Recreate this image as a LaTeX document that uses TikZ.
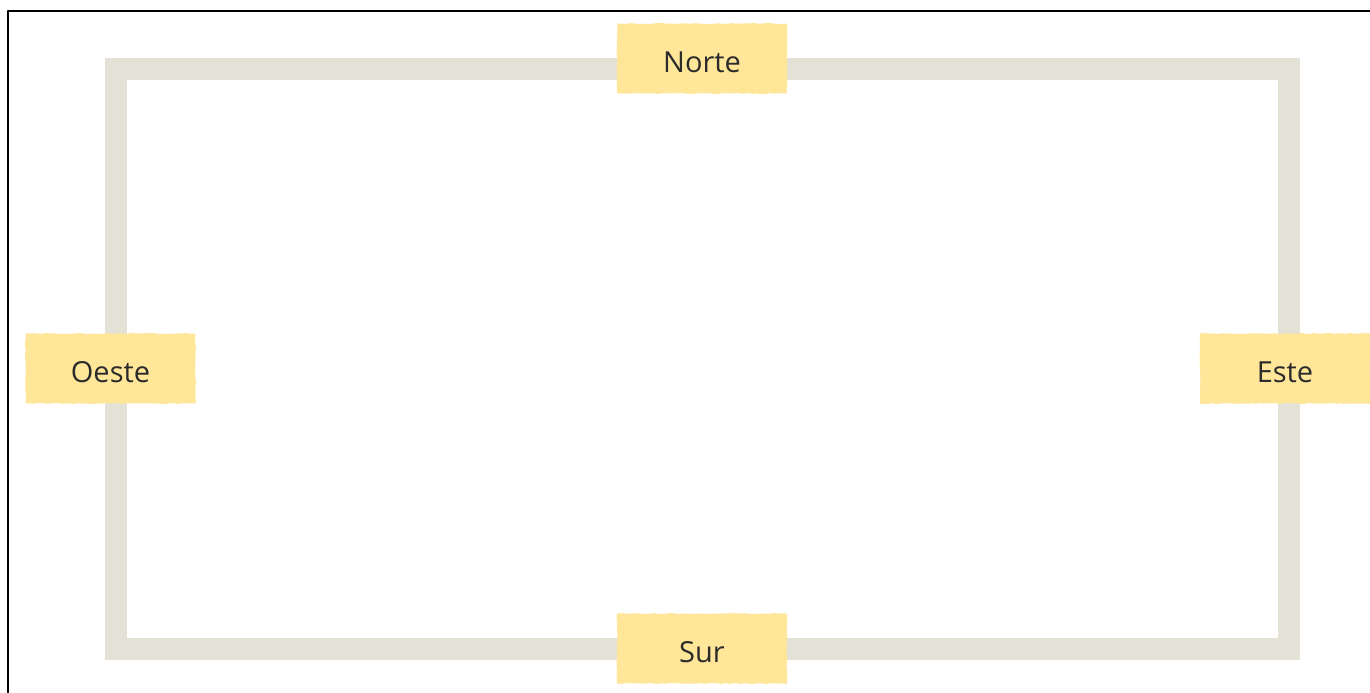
\documentclass[tikz,border=0pt]{standalone}
\usepackage{fontspec}
\setmainfont{Open Sans}
\usetikzlibrary{decorations.pathmorphing}
\definecolor{bandgray}{HTML}{E4E1D6}
\definecolor{tapeyellow}{HTML}{FFE699}
\definecolor{labelink}{HTML}{2B2B2B}
\begin{document}
\pgfmathsetseed{7}
\begin{tikzpicture}[x=0.5pt,y=-0.5pt,line join=bevel,
  band/.style={draw=bandgray,line width=11pt,line join=miter},
  tape/.style={fill=tapeyellow,draw=none,minimum width=85pt,minimum height=35pt,inner sep=0pt,
    text=labelink,font=\fontsize{14.5}{16}\selectfont,text height=13.5pt,text depth=0pt,
    decorate,decoration={random steps,segment length=2pt,amplitude=0.25pt}},
  frame/.style={draw=black,line width=1pt}]
%%
\clip (0,0) rectangle (1370,692);
\fill[white] (0,0) rectangle (1370,692);
\coordinate (frame_bl) at (8,710);
\coordinate (frame_tl) at (8,11);
\coordinate (frame_tr) at (1390,11);
\draw [frame] (frame_bl) -- (frame_tl) -- (frame_tr);
\draw [band] (116,69) rectangle (1289,649);
%
\node (node_norte) at (702,58.5) [tape] {Norte};
  \node (node_sur) at (702,648.5) [tape] {Sur};
  \node (node_oeste) at (110.5,368.5) [tape] {Oeste};
  \node (node_este) at (1285,368.5) [tape] {Este};
%
\end{tikzpicture}
\end{document}
